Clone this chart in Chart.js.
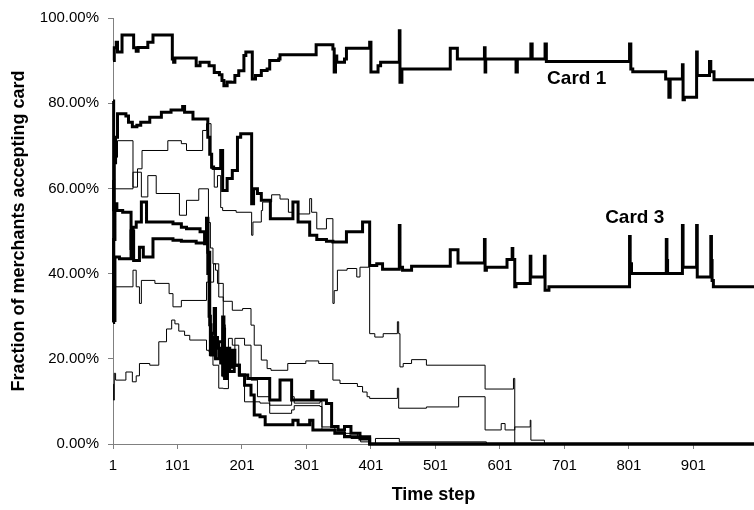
<!DOCTYPE html>
<html lang="en">
<head>
<meta charset="UTF-8">
<title>Fraction of merchants accepting card</title>
<script src="https://cdn.jsdelivr.net/npm/chart.js@4"></script>
<style>
    body { margin: 0; background: #fff; }
    #chart { display: block; }
</style>
</head>
<body>
<canvas id="chart" width="754" height="510"></canvas>
<script>
// x axis: time steps, labelled every 100
const xTicks = [1, 101, 201, 301, 401, 501, 601, 701, 801, 901];
const lastStep = 995;
const yTicks = [0, 20, 40, 60, 80, 100];

// every series is [time step, % of merchants] at each change (step line)
// thick lines
const card1 = [[1,90],[3,93],[6,94.3],[8,92],[15,96],[31,96],[33,93],[37,92.2],[40,93.1],[55,94.3],[63,96],[92,96],[93,90.4],[95,89.6],[97,90.6],[130,88.8],[136,89.6],[150,88.8],[158,87.2],[166,86.7],[170,85.3],[173,84.1],[178,85],[183,84.9],[190,86.5],[196,87.6],[204,91.2],[207,92],[216,92],[217,85.7],[222,86.5],[231,87.7],[240,88],[244,90],[258,90.4],[260,91.4],[316,93.7],[340,93.7],[342,92.7],[344,87.3],[346,91.1],[348,89.6],[360,90.4],[363,92.9],[397,92.9],[399,94.3],[401,87.3],[412,88.8],[416,89.6],[445,97],[446,84.9],[449,88],[524,92.9],[535,90.4],[577,93],[578,87.3],[579,90.4],[626,87.3],[628,90.4],[649,93.9],[651,90.4],[671,93.9],[673,89.8],[802,93.9],[804,88],[807,87.4],[858,85.7],[863,81.4],[865,85.7],[884,89],[885,80.8],[887,81.4],[906,92],[907,86.5],[926,89.8],[928,87.4],[933,85.5],[995,85.5]];
const card3 = [[1,80.5],[2,55],[3,66],[5,72],[8,77.5],[21,77],[25,75.5],[31,74.5],[38,74.8],[44,75.5],[58,76.7],[76,77.9],[91,78.4],[109,79.2],[112,77.9],[125,76.3],[148,72],[151,68],[154,65],[157,64.7],[168,68.9],[171,59.5],[178,62.3],[186,64.2],[194,72],[199,72.8],[216,56.4],[219,59.9],[225,58.8],[231,57.2],[245,52.9],[280,56.8],[288,52.1],[306,49],[317,48],[332,47.6],[342,47.4],[363,49.8],[388,52.1],[399,41.9],[410,42.3],[419,41],[445,51.3],[446,41.5],[450,40.8],[464,41.7],[524,45.6],[536,42.5],[577,48],[578,40.8],[580,41.5],[612,43.3],[620,45.9],[621,43.3],[624,36.9],[626,37.7],[648,44.1],[649,39.2],[670,44.1],[671,36.1],[677,36.9],[802,48.7],[803,42.3],[805,40],[859,48],[860,43.1],[861,40],[884,51.3],[885,41.5],[906,51.3],[907,39.2],[928,48.7],[929,43.1],[930,38.4],[932,36.9],[995,36.9]];
const cardA = [[1,28.5],[2,48],[4,56.4],[7,54.8],[16,54.4],[29,45.9],[32,50.9],[37,52.1],[45,56.8],[53,52.1],[94,51.7],[107,50.9],[115,50.5],[136,49.8],[143,47],[146,52.9],[148,40],[150,30],[152,21],[155,26],[158,31.8],[160,25],[163,22.5],[168,19],[171,29.8],[173,16],[176,20],[180,18],[186,22],[190,18.5],[197,16.2],[210,15.4],[244,10.3],[260,15],[278,10.3],[309,12.3],[311,10.3],[332,9.5],[340,4.1],[350,3.3],[360,4.1],[370,2.5],[384,1.7],[399,0],[995,0]];
const cardB = [[1,62],[2,29],[4,43.9],[11,43.5],[29,50],[33,43.1],[42,46.2],[48,43.9],[63,48.2],[94,47.8],[107,47.6],[130,47.2],[146,53],[148,45],[151,28],[153,20.9],[156,25],[160,20],[165,24],[171,16.2],[172,27],[174,15.4],[178,22.5],[182,17],[189,18.5],[197,16.2],[205,13.8],[215,11.5],[220,6.8],[229,6.4],[237,4.5],[280,5.6],[288,4.5],[306,5.6],[311,3.3],[345,2.5],[360,1.7],[384,1.2],[399,0],[995,0]];

// thin lines
const thinA = [[1,58],[3,67.3],[8,71.2],[32,60.3],[39,64.6],[46,68.9],[86,71.2],[107,70.5],[115,68.9],[140,73.6],[146,75.2],[153,64.6],[158,60.3],[163,63],[168,55.5],[171,54.8],[192,54.4],[216,49],[218,52.1],[231,54.8],[233,56.8],[247,58.5],[260,57.5],[273,54.4],[280,56.8],[288,54],[306,57.6],[309,54.4],[317,50.5],[332,52.9],[342,33],[344,36],[349,40.8],[364,41.2],[379,39.2],[384,41.5],[399,25.9],[407,25.1],[420,25.9],[442,28.7],[444,25.9],[446,18.1],[451,18.9],[464,19.8],[487,18.5],[578,12.9],[622,15.4],[624,0],[995,0]];
const thinB = [[1,62],[3,59.9],[32,63.8],[45,58],[55,63],[68,58.8],[104,53.7],[115,57.2],[134,59.9],[149,52],[152,46],[156,42.3],[160,40.8],[163,37.7],[172,33.5],[186,31.4],[202,31.8],[215,27.9],[220,23.2],[231,19.7],[240,17.7],[246,17.3],[272,18.9],[300,19.5],[320,18.9],[342,15],[353,14.2],[380,13.5],[388,12.2],[395,11.1],[399,10.7],[442,13.1],[444,8.4],[487,8.7],[537,11.1],[578,3.3],[603,4.8],[609,3.3],[624,4],[648,5.6],[649,0.9],[670,0],[995,0]];
const thinC = [[1,36],[3,36.9],[32,40.8],[37,36.9],[42,33],[45,38.4],[66,37.7],[88,35.3],[94,32.2],[107,33.7],[146,38],[157,42.3],[165,34.5],[172,28],[175,22],[180,20.5],[190,24.8],[205,23.2],[215,15],[225,11.1],[244,9.1],[278,11.1],[282,9.6],[322,10],[325,3.3],[360,2.5],[380,1.5],[399,0],[995,0]];
const thinD = [[1,14],[2,10.3],[3,16.6],[5,15],[21,16.9],[31,14.6],[37,16],[42,18.9],[58,18.5],[72,24],[84,27],[92,29.1],[97,28.2],[103,26.5],[112,25.5],[120,24.4],[146,22],[150,21.6],[156,18.5],[165,13.1],[172,13],[180,24.8],[186,23.2],[196,16],[205,9.9],[229,9.6],[244,7.2],[278,8],[282,9],[322,8.8],[325,4],[345,3],[360,2],[370,1.3],[385,0.5],[399,0],[408,1.3],[445,0.5],[580,0],[995,0]];

// labels next to the curves, in data coordinates
const cardLabels = [
    { text: 'Card 1', step: 720, value: 85.7 },
    { text: 'Card 3', step: 810, value: 53.1 }
];

const fontFamily = "'Liberation Sans', Arial, sans-serif";

function makeLine(series, width) {
    return {
        data: series.map(p => ({ x: p[0], y: p[1] })),
        borderColor: '#000',
        borderWidth: width,
        pointRadius: 0,
        stepped: true,
        fill: false,
        clip: 4
    };
}

const labelPlugin = {
    id: 'cardLabels',
    afterDatasetsDraw(chart) {
        const { ctx, scales: { x, y } } = chart;
        ctx.save();
        ctx.font = 'bold 19px ' + fontFamily;
        ctx.fillStyle = '#000';
        ctx.textAlign = 'center';
        ctx.textBaseline = 'middle';
        cardLabels.forEach(l => {
            ctx.fillText(l.text, x.getPixelForValue(l.step), y.getPixelForValue(l.value));
        });
        ctx.restore();
    }
};

new Chart(document.getElementById('chart'), {
    type: 'line',
    data: {
        datasets: [
            makeLine(card1, 3),
            makeLine(card3, 3),
            makeLine(cardA, 3),
            makeLine(cardB, 3),
            makeLine(thinA, 1),
            makeLine(thinB, 1),
            makeLine(thinC, 1),
            makeLine(thinD, 1)
        ]
    },
    options: {
        responsive: false,
        animation: false,
        layout: { padding: { top: 17, right: 0, bottom: 0, left: 0 } },
        plugins: {
            legend: { display: false },
            tooltip: { enabled: false }
        },
        scales: {
            x: {
                type: 'linear',
                min: 1,
                max: lastStep,
                afterBuildTicks: s => { s.ticks = xTicks.map(v => ({ value: v })); },
                afterFit: s => { s.height = 66; },
                grid: { drawOnChartArea: false, tickLength: 5, color: '#808080' },
                border: { color: '#808080' },
                ticks: {
                    color: '#000',
                    font: { family: fontFamily, size: 15 },
                    padding: 8,
                    maxRotation: 0,
                    autoSkip: false
                },
                title: {
                    display: true,
                    text: 'Time step',
                    color: '#000',
                    font: { family: fontFamily, size: 18, weight: 'bold' },
                    padding: { top: 0, bottom: 4 }
                }
            },
            y: {
                min: 0,
                max: 100,
                afterBuildTicks: s => { s.ticks = yTicks.map(v => ({ value: v })); },
                afterFit: s => { s.width = 113; },
                grid: { drawOnChartArea: false, tickLength: 5, color: '#808080' },
                border: { color: '#808080' },
                ticks: {
                    color: '#000',
                    font: { family: fontFamily, size: 15 },
                    padding: 9,
                    callback: v => v.toFixed(2) + '%'
                },
                title: {
                    display: true,
                    text: 'Fraction of merchants accepting card',
                    color: '#000',
                    font: { family: fontFamily, size: 18, weight: 'bold' },
                    padding: { top: 8, bottom: 0 }
                }
            }
        }
    },
    plugins: [labelPlugin]
});
</script>
</body>
</html>
